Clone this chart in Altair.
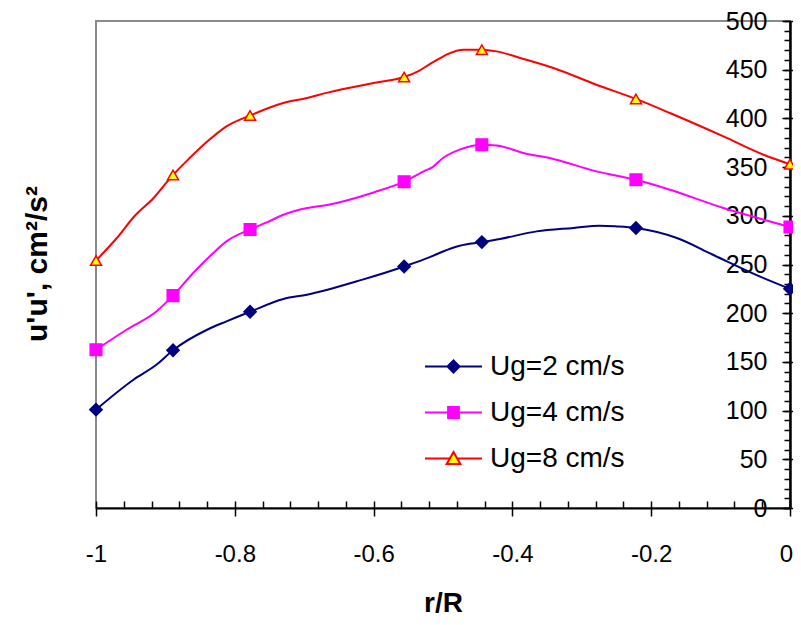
import altair as alt
import pandas as pd

series = ["Ug=2 cm/s", "Ug=4 cm/s", "Ug=8 cm/s"]
line_colors = ["#000080", "#FF00FF", "#FF0000"]
marker_fills = ["#000080", "#FF00FF", "#FFFF00"]
marker_shapes = ["diamond", "square", "triangle-up"]

# marker positions
marker_r = [-1.0, -0.889, -0.778, -0.556, -0.444, -0.222, 0.0]
marker_ug2 = [101, 162, 201.5, 248, 273, 287.5, 225]
marker_ug4 = [162.5, 218, 286, 335, 373, 337, 288.5]
marker_ug8 = [254, 342, 403, 442.5, 470.5, 420, 353]

# curve points
line_r_ug2 = [-1.0, -0.946, -0.913, -0.889, -0.840, -0.812, -0.778, -0.730, -0.696,
              -0.616, -0.556, -0.519, -0.500, -0.476, -0.444, -0.418, -0.365, -0.312,
              -0.274, -0.250, -0.222, -0.163, -0.111, -0.038, 0.0]
line_v_ug2 = [101, 131.7, 147, 162, 183, 191.6, 201.5, 214.6, 219,
              234.5, 248, 257.5, 263.4, 269.3, 273, 276.2, 284, 287.5,
              289.8, 289.1, 287.5, 277.2, 260, 236, 225]

line_r_ug4 = [-1.0, -0.956, -0.913, -0.889, -0.860, -0.831, -0.812, -0.778, -0.754,
              -0.730, -0.696, -0.665, -0.600, -0.556, -0.528, -0.515, -0.500, -0.476,
              -0.444, -0.423, -0.384, -0.341, -0.279, -0.222, -0.173, -0.096, -0.038, 0.0]
line_v_ug4 = [162.5, 183, 201.8, 218, 241.3, 261.8, 273.7, 286, 293.2,
              301.1, 308, 311.4, 324, 335, 345.6, 350, 359.3, 367.9,
              373, 372.3, 364.5, 358.3, 345.6, 337, 326.8, 308, 296, 288.5]

line_r_ug8 = [-1.0, -0.970, -0.944, -0.917, -0.889, -0.865, -0.841, -0.812, -0.778,
              -0.730, -0.696, -0.665, -0.600, -0.556, -0.536, -0.519, -0.504, -0.490,
              -0.471, -0.444, -0.423, -0.384, -0.341, -0.279, -0.222, -0.173, -0.096,
              -0.038, 0.0]
line_v_ug8 = [254, 277.2, 300.1, 318.3, 342, 359.3, 375.4, 391.8, 403,
              415.8, 420.9, 426.7, 436.3, 442.5, 448.3, 455.8, 462, 467,
              470.5, 470.5, 468.8, 461, 451.7, 434.6, 420, 405.5, 381.5,
              362.7, 353]

x_major = [-1, -0.8, -0.6, -0.4, -0.2, 0]
x_minor = [round(-1 + 0.04 * i, 2) for i in range(26)]
y_major = list(range(0, 501, 50))
y_minor = list(range(0, 501, 10))

# legend symbols: line segment with the marker in its middle
legend_paths = [
    "M-1,0H1M-0.21,0L0,-0.21L0.21,0L0,0.21Z",
    "M-1,0H1M-0.19,-0.19H0.19V0.19H-0.19Z",
    "M-1,0H-0.12M0.12,0H1M0,-0.23L0.24,0.19H-0.24Z",
]

line_rows = []
for s, rs, vs in [(series[0], line_r_ug2, line_v_ug2),
                  (series[1], line_r_ug4, line_v_ug4),
                  (series[2], line_r_ug8, line_v_ug8)]:
    for r, v in zip(rs, vs):
        line_rows.append({"r": r, "v": v, "series": s})
line_df = pd.DataFrame(line_rows)

marker_rows = []
for s, vs in [(series[0], marker_ug2), (series[1], marker_ug4), (series[2], marker_ug8)]:
    for r, v in zip(marker_r, vs):
        marker_rows.append({"r": r, "v": v, "series": s})
marker_df = pd.DataFrame(marker_rows)

FONT = "Liberation Sans"
x_scale = alt.Scale(domain=[-1, 0], nice=False, zero=False)
y_scale = alt.Scale(domain=[0, 500], nice=False)

lines = alt.Chart(line_df).mark_line(strokeWidth=2, interpolate="monotone").encode(
    x=alt.X("r:Q", scale=x_scale, axis=alt.Axis(
        orient="bottom", values=x_major, tickSize=8, tickWidth=1.5, tickColor="black",
        domain=True, domainColor="black", domainWidth=2, grid=False,
        labelFont=FONT, labelFontSize=24, labelColor="black", labelPadding=26,
        labelFlush=False, labelOverlap=False,
        labelOffset={"condition": {"test": "datum.value == 0", "value": -4}, "value": 0},
        labelExpr="datum.value == 0 ? '0' : (datum.value < 0 ? '-' : '') + format(abs(datum.value), '.1~f')",
        title="r/R", titleFont=FONT, titleFontSize=28, titleFontWeight="bold",
        titleColor="black", titleY=103, titleBaseline="alphabetic")),
    y=alt.Y("v:Q", scale=y_scale, axis=alt.Axis(
        orient="left", offset=-694, values=y_major, tickSize=8, tickWidth=1.5,
        tickColor="black", domain=True, domainColor="black", domainWidth=2, grid=False,
        labelFont=FONT, labelFontSize=25, labelColor="black", labelPadding=15,
        labelOverlap=False, title=None)),
    color=alt.Color("series:N", scale=alt.Scale(domain=series, range=line_colors), legend=None),
)

points = alt.Chart(marker_df).mark_point(filled=True, opacity=1, strokeWidth=1.5).encode(
    x=alt.X("r:Q", scale=x_scale, axis=alt.Axis(
        orient="top", offset=-487, values=x_minor, tickSize=7, tickWidth=1.5,
        tickColor="black", labels=False, domain=False, grid=False, title=None)),
    y=alt.Y("v:Q", scale=y_scale, axis=alt.Axis(
        orient="right", values=y_major, tickSize=8, tickWidth=1.5, tickColor="black",
        labels=False, domain=True, domainColor="black", domainWidth=2, grid=False,
        title="u'u', cm²/s²", titleFont=FONT, titleFontSize=30, titleFontWeight="bold",
        titleColor="black", titleX=-753, titleY=242.5, titleAngle=270,
        titleAlign="center", titleBaseline="middle")),
    shape=alt.Shape("series:N", scale=alt.Scale(domain=series, range=marker_shapes), legend=None),
    fill=alt.Fill("series:N", scale=alt.Scale(domain=series, range=marker_fills), legend=None),
    stroke=alt.Stroke("series:N", scale=alt.Scale(domain=series, range=line_colors), legend=None),
    size=alt.Size("series:N", scale=alt.Scale(domain=series, range=[150, 120, 200]), legend=None),
)

leg = alt.Legend(title=None, orient="none", legendX=328, legendY=316,
                 symbolSize=3249, symbolStrokeWidth=2, symbolOpacity=1,
                 labelFont=FONT, labelFontSize=28, labelColor="black",
                 labelOffset=7, labelLimit=400, rowPadding=2, padding=0)

legend_layer = alt.Chart(marker_df).transform_filter("false").mark_point(
    filled=True, opacity=1, size=3249, strokeWidth=2).encode(
    x=alt.X("r:Q", scale=x_scale, axis=None),
    y=alt.Y("v:Q", scale=y_scale, axis=alt.Axis(
        orient="left", offset=-694, values=y_minor, tickSize=6, tickWidth=1.5,
        tickColor="black", labels=False, domain=False, grid=False, title=None)),
    shape=alt.Shape("series:N", scale=alt.Scale(domain=series, range=legend_paths), legend=leg),
    fill=alt.Fill("series:N", scale=alt.Scale(domain=series, range=marker_fills), legend=leg),
    stroke=alt.Stroke("series:N", scale=alt.Scale(domain=series, range=line_colors), legend=leg),
)

chart = alt.layer(lines, points, legend_layer).resolve_scale(
    shape="independent", fill="independent", stroke="independent", size="independent"
).resolve_axis(x="independent", y="independent").properties(
    width=694, height=487,
    autosize=alt.AutoSizeParams(type="none"),
    padding={"left": 88, "top": 13, "right": 3, "bottom": 108},
).configure_view(stroke="#8a8a8a", strokeWidth=2)

chart.save("out.html", embed_options={"renderer": "svg", "actions": False})
